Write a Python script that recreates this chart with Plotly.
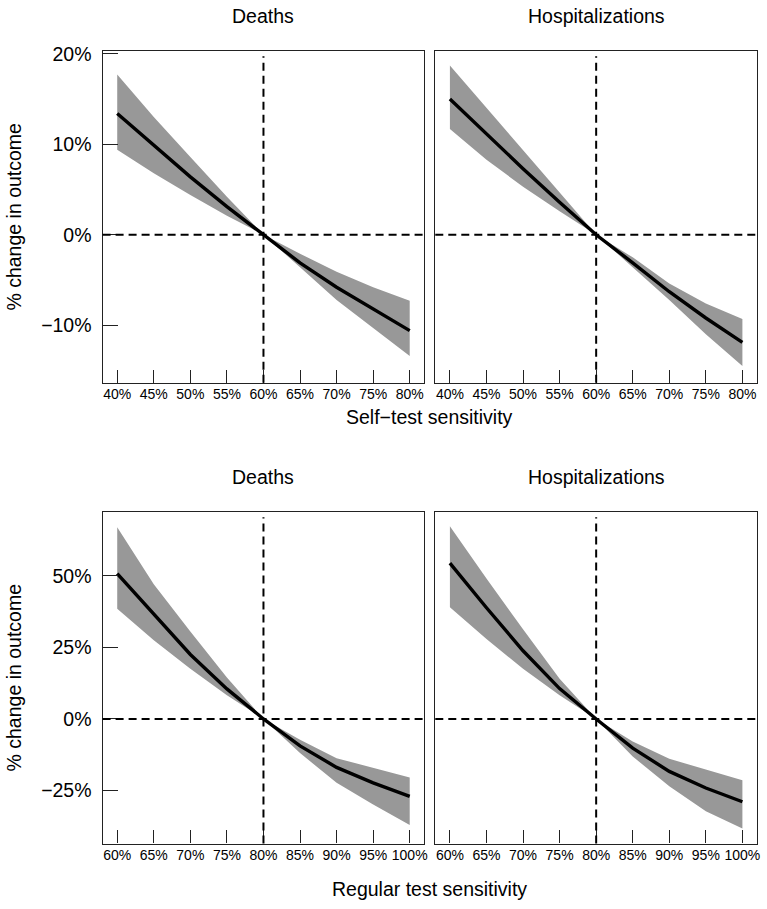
import plotly.graph_objects as go

# ---------------- data ----------------
self_test_x = [40, 45, 50, 55, 60, 65, 70, 75, 80]
regular_test_x = [60, 65, 70, 75, 80, 85, 90, 95, 100]
self_test_baseline = 60
regular_test_baseline = 80

self_deaths_mean = [13.4, 9.9, 6.4, 3.1, 0, -3.1, -5.8, -8.2, -10.6]
self_deaths_upper = [17.7, 13.0, 8.6, 4.2, 0, -2.1, -4.1, -5.8, -7.3]
self_deaths_lower = [9.4, 6.8, 4.4, 2.1, 0, -3.6, -7.2, -10.3, -13.4]

self_hosp_mean = [15.0, 11.1, 7.3, 3.6, 0, -3.1, -6.3, -9.2, -11.9]
self_hosp_upper = [18.7, 14.0, 9.4, 4.7, 0, -2.5, -5.4, -7.6, -9.3]
self_hosp_lower = [11.7, 8.3, 5.3, 2.6, 0, -3.6, -7.2, -11.0, -14.5]

reg_deaths_mean = [50.7, 36.5, 22.5, 10.5, 0, -9.4, -16.9, -22.3, -27.0]
reg_deaths_upper = [66.9, 47.0, 30.5, 14.5, 0, -7.3, -13.7, -17.1, -20.4]
reg_deaths_lower = [38.5, 27.5, 17.5, 8.3, 0, -11.9, -22.3, -29.9, -37.0]

reg_hosp_mean = [54.4, 38.8, 23.8, 10.6, 0, -10.2, -18.3, -24.1, -28.9]
reg_hosp_upper = [67.3, 49.0, 31.3, 14.0, 0, -7.9, -13.9, -17.7, -21.4]
reg_hosp_lower = [39.0, 27.9, 17.5, 8.3, 0, -13.1, -23.5, -32.2, -38.2]

panel_titles = ["Deaths", "Hospitalizations"]
self_x_ticks = [40, 45, 50, 55, 60, 65, 70, 75, 80]
reg_x_ticks = [60, 65, 70, 75, 80, 85, 90, 95, 100]
top_y_ticks = [-10, 0, 10, 20]
bottom_y_ticks = [-25, 0, 25, 50]
x_title_top = "Self\u2212test sensitivity"
x_title_bottom = "Regular test sensitivity"
y_title = "% change in outcome"

# ---------------- figure ----------------
W, H = 767, 909
FONT = "Liberation Sans, Arial, sans-serif"
BAND = "#989898"
BIG = 19.5

def px_x(p):
    return p / W

def px_y(p):
    return 1 - p / H

fig = go.Figure()

panels = [
    (self_test_x, self_deaths_mean, self_deaths_upper, self_deaths_lower, "x", "y", self_test_baseline),
    (self_test_x, self_hosp_mean, self_hosp_upper, self_hosp_lower, "x2", "y2", self_test_baseline),
    (regular_test_x, reg_deaths_mean, reg_deaths_upper, reg_deaths_lower, "x3", "y3", regular_test_baseline),
    (regular_test_x, reg_hosp_mean, reg_hosp_upper, reg_hosp_lower, "x4", "y4", regular_test_baseline),
]

shapes = []
for xs, mean, up, lo, xa, ya, base in panels:
    fig.add_trace(go.Scatter(
        x=list(xs) + list(xs)[::-1], y=list(up) + list(lo)[::-1],
        fill="toself", fillcolor=BAND, line=dict(width=0, color=BAND),
        mode="lines", hoverinfo="skip", xaxis=xa, yaxis=ya))
    fig.add_trace(go.Scatter(
        x=xs, y=mean, mode="lines", line=dict(color="black", width=3.4),
        xaxis=xa, yaxis=ya))
    shapes.append(dict(type="line", xref=f"{xa} domain", yref=ya, x0=0, x1=1, y0=0, y1=0,
                       line=dict(color="black", width=2, dash="8px,5px"), layer="above"))
    shapes.append(dict(type="line", xref=xa, yref=f"{ya} domain", x0=base, x1=base, y0=0, y1=0.983,
                       line=dict(color="black", width=2, dash="8px,5px"), layer="above"))

left_dom = [px_x(103), px_x(426)]
right_dom = [px_x(437), px_x(760)]
top_dom = [px_y(378), px_y(43)]
bot_dom = [px_y(843), px_y(508)]

def xaxis(dom, anchor, ticks_list):
    return dict(domain=dom, anchor=anchor, range=[38, 82] if ticks_list[0] == 40 else [58, 102],
                tickvals=ticks_list, ticktext=[f"{t}%" for t in ticks_list],
                showline=True, linecolor="#222", linewidth=1.3, mirror=True,
                ticks="inside", ticklen=13, tickwidth=1.2, tickcolor="#222",
                showgrid=False, zeroline=False, ticklabelstandoff=-2,
                tickfont=dict(size=14, family=FONT, color="black"))

def yaxis(dom, anchor, rng, ticks_list, labels):
    d = dict(domain=dom, anchor=anchor, range=rng,
             showline=True, linecolor="#222", linewidth=1.3, mirror=True,
             showgrid=False, zeroline=False)
    if labels:
        d.update(tickvals=ticks_list,
                 ticktext=[(f"\u2212{abs(t)}%" if t < 0 else f"{t}%") for t in ticks_list],
                 ticks="inside", ticklen=15, tickwidth=1.2, tickcolor="#222",
                 ticklabelstandoff=6,
                 tickfont=dict(size=BIG, family=FONT, color="black"))
    else:
        d.update(showticklabels=False, ticks="")
    return d

top_rng = [-16.35, 20.35]
bot_rng = [-43.5, 72.4]

fig.update_layout(
    width=W, height=H,
    margin=dict(l=0, r=0, t=0, b=0),
    paper_bgcolor="white", plot_bgcolor="white",
    showlegend=False,
    font=dict(family=FONT, color="black"),
    xaxis=xaxis(left_dom, "y", self_x_ticks),
    yaxis=yaxis(top_dom, "x", top_rng, top_y_ticks, True),
    xaxis2=xaxis(right_dom, "y2", self_x_ticks),
    yaxis2=yaxis(top_dom, "x2", top_rng, top_y_ticks, False),
    xaxis3=xaxis(left_dom, "y3", reg_x_ticks),
    yaxis3=yaxis(bot_dom, "x3", bot_rng, bottom_y_ticks, True),
    xaxis4=xaxis(right_dom, "y4", reg_x_ticks),
    yaxis4=yaxis(bot_dom, "x4", bot_rng, bottom_y_ticks, False),
    shapes=shapes,
)

ann = []
for cx, cy, txt in [
    ((103 + 426) / 2, 8, panel_titles[0]),
    ((437 + 760) / 2, 8, panel_titles[1]),
    ((103 + 426) / 2, 473, panel_titles[0]),
    ((437 + 760) / 2, 473, panel_titles[1]),
]:
    ann.append(dict(x=px_x(cx), y=px_y(cy), xref="paper", yref="paper", text=txt,
                    showarrow=False, xanchor="center", yanchor="middle",
                    font=dict(size=BIG, family=FONT, color="black")))
ann.append(dict(x=px_x(431.5), y=px_y(413), xref="paper", yref="paper", text=x_title_top,
                showarrow=False, xanchor="center", yanchor="middle",
                font=dict(size=BIG, family=FONT, color="black")))
ann.append(dict(x=px_x(431.5), y=px_y(889), xref="paper", yref="paper", text=x_title_bottom,
                showarrow=False, xanchor="center", yanchor="middle",
                font=dict(size=BIG, family=FONT, color="black")))
for cy in [210.5, 675.5]:
    ann.append(dict(x=px_x(14), y=px_y(cy), xref="paper", yref="paper", text=y_title,
                    showarrow=False, xanchor="center", yanchor="middle", textangle=-90,
                    font=dict(size=BIG, family=FONT, color="black")))
fig.update_layout(annotations=ann)

fig.write_html("out.html")
